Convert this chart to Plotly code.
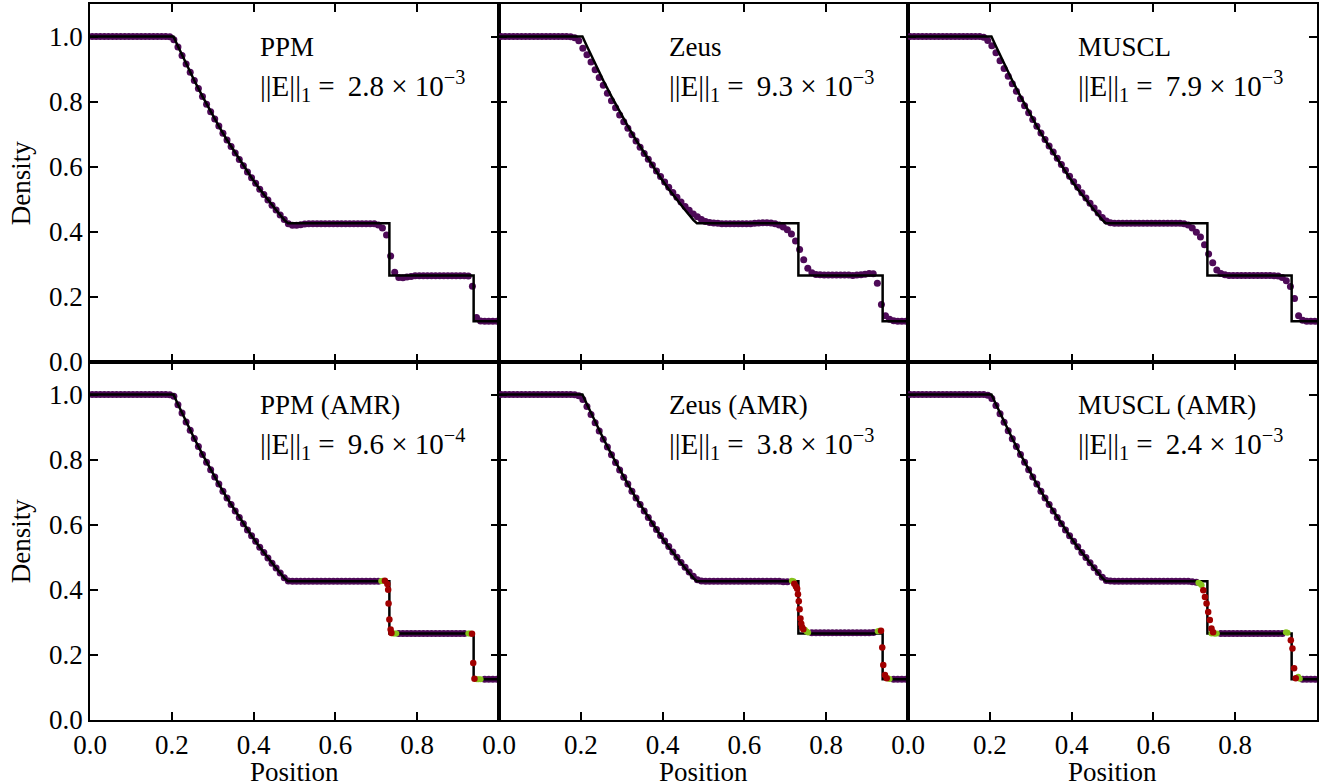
import plotly.graph_objects as go
from plotly.subplots import make_subplots

# ---------------- data ----------------
x_cells = [
    0.005, 0.015, 0.025, 0.035, 0.045, 0.055, 0.065, 0.075, 0.085, 0.095,
    0.105, 0.115, 0.125, 0.135, 0.145, 0.155, 0.165, 0.175, 0.185, 0.195,
    0.205, 0.215, 0.225, 0.235, 0.245, 0.255, 0.265, 0.275, 0.285, 0.295,
    0.305, 0.315, 0.325, 0.335, 0.345, 0.355, 0.365, 0.375, 0.385, 0.395,
    0.405, 0.415, 0.425, 0.435, 0.445, 0.455, 0.465, 0.475, 0.485, 0.495,
    0.505, 0.515, 0.525, 0.535, 0.545, 0.555, 0.565, 0.575, 0.585, 0.595,
    0.605, 0.615, 0.625, 0.635, 0.645, 0.655, 0.665, 0.675, 0.685, 0.695,
    0.705, 0.715, 0.725, 0.735, 0.745, 0.755, 0.765, 0.775, 0.785, 0.795,
    0.805, 0.815, 0.825, 0.835, 0.845, 0.855, 0.865, 0.875, 0.885, 0.895,
    0.905, 0.915, 0.925, 0.935, 0.945, 0.955, 0.965, 0.975, 0.985, 0.995,
]

# analytic (exact) solution, drawn as the black line
exact_x = [0.0, 0.204, 0.215, 0.235, 0.255, 0.275, 0.295, 0.315, 0.335, 0.355,
           0.375, 0.395, 0.415, 0.435, 0.455, 0.475, 0.484, 0.732, 0.732, 0.938,
           0.938, 1.0]
exact_rho = [1.0, 1.0, 0.970, 0.916, 0.865, 0.816, 0.769, 0.725, 0.682, 0.642,
             0.603, 0.566, 0.531, 0.498, 0.467, 0.437, 0.426, 0.426, 0.266, 0.266,
             0.125, 0.125]

rho_ppm = [
    1.0, 1.0, 1.0, 1.0, 1.0, 1.0, 1.0, 1.0, 1.0, 1.0,
    1.0, 1.0, 1.0, 1.0, 1.0, 1.0, 1.0, 1.0, 1.0, 0.999,
    0.990, 0.968, 0.942, 0.916, 0.890, 0.865, 0.840, 0.816, 0.792, 0.769,
    0.747, 0.725, 0.703, 0.682, 0.662, 0.642, 0.622, 0.603, 0.584, 0.566,
    0.549, 0.531, 0.515, 0.498, 0.482, 0.467, 0.452, 0.438, 0.425, 0.420,
    0.420, 0.422, 0.424, 0.425, 0.425, 0.425, 0.425, 0.425, 0.425, 0.425,
    0.425, 0.425, 0.425, 0.425, 0.425, 0.425, 0.425, 0.425, 0.425, 0.425,
    0.421, 0.412, 0.390, 0.326, 0.276, 0.260, 0.259, 0.261, 0.263, 0.265,
    0.265, 0.265, 0.265, 0.265, 0.265, 0.265, 0.265, 0.265, 0.265, 0.265,
    0.265, 0.265, 0.264, 0.233, 0.137, 0.126, 0.125, 0.125, 0.125, 0.125,
]

rho_zeus = [
    1.0, 1.0, 1.0, 1.0, 1.0, 1.0, 1.0, 1.0, 1.0, 1.0,
    1.0, 1.0, 1.0, 1.0, 1.0, 1.0, 1.0, 0.999, 0.996, 0.987,
    0.964, 0.944, 0.922, 0.898, 0.874, 0.850, 0.826, 0.803, 0.781, 0.759,
    0.738, 0.718, 0.698, 0.679, 0.660, 0.641, 0.623, 0.605, 0.587, 0.570,
    0.553, 0.537, 0.521, 0.506, 0.492, 0.478, 0.466, 0.455, 0.446, 0.438,
    0.432, 0.429, 0.427, 0.426, 0.425, 0.425, 0.425, 0.425, 0.425, 0.425,
    0.425, 0.425, 0.426, 0.427, 0.428, 0.428, 0.427, 0.425, 0.421, 0.415,
    0.406, 0.393, 0.372, 0.346, 0.314, 0.288, 0.274, 0.269, 0.268, 0.267,
    0.267, 0.267, 0.267, 0.267, 0.267, 0.267, 0.266, 0.267, 0.268, 0.270,
    0.272, 0.271, 0.242, 0.177, 0.142, 0.131, 0.127, 0.125, 0.125, 0.125,
]

rho_muscl = [
    1.0, 1.0, 1.0, 1.0, 1.0, 1.0, 1.0, 1.0, 1.0, 1.0,
    1.0, 1.0, 1.0, 1.0, 1.0, 1.0, 1.0, 1.0, 0.998, 0.988,
    0.972, 0.950, 0.926, 0.902, 0.878, 0.855, 0.832, 0.809, 0.787, 0.766,
    0.745, 0.724, 0.704, 0.684, 0.664, 0.645, 0.626, 0.607, 0.589, 0.571,
    0.554, 0.537, 0.520, 0.504, 0.488, 0.473, 0.458, 0.444, 0.433, 0.428,
    0.426, 0.426, 0.426, 0.426, 0.426, 0.426, 0.426, 0.426, 0.426, 0.426,
    0.426, 0.426, 0.426, 0.426, 0.426, 0.426, 0.426, 0.425, 0.421, 0.412,
    0.399, 0.384, 0.360, 0.332, 0.305, 0.283, 0.272, 0.268, 0.266, 0.266,
    0.266, 0.266, 0.266, 0.266, 0.266, 0.266, 0.266, 0.266, 0.266, 0.265,
    0.264, 0.260, 0.250, 0.232, 0.195, 0.142, 0.128, 0.125, 0.125, 0.125,
]

# AMR runs: root-level cells (purple), plus refined cells (green, red)
rho_ppm_amr = [
    1.0, 1.0, 1.0, 1.0, 1.0, 1.0, 1.0, 1.0, 1.0, 1.0,
    1.0, 1.0, 1.0, 1.0, 1.0, 1.0, 1.0, 1.0, 1.0, 0.999,
    0.995, 0.969, 0.943, 0.916, 0.890, 0.865, 0.840, 0.816, 0.792, 0.769,
    0.747, 0.725, 0.703, 0.682, 0.662, 0.642, 0.622, 0.603, 0.584, 0.566,
    0.549, 0.531, 0.515, 0.498, 0.482, 0.467, 0.452, 0.437, 0.427, 0.426,
    0.426, 0.426, 0.426, 0.426, 0.426, 0.426, 0.426, 0.426, 0.426, 0.426,
    0.426, 0.426, 0.426, 0.426, 0.426, 0.426, 0.426, 0.426, 0.426, 0.426,
    0.426, None, None, None, None, 0.266, 0.266, 0.266, 0.266, 0.266,
    0.266, 0.266, 0.266, 0.266, 0.266, 0.266, 0.266, 0.266, 0.266, 0.266,
    0.266, 0.266, None, None, None, None, 0.125, 0.125, 0.125, 0.125,
]
ppm_amr_l1_x = [0.712, 0.716, 0.741, 0.745, 0.749, 0.925, 0.929, 0.946, 0.950, 0.955]
ppm_amr_l1_rho = [0.427, 0.428, 0.266, 0.266, 0.266, 0.266, 0.266, 0.125, 0.125, 0.125]
ppm_amr_l2_x = [0.721, 0.727, 0.729, 0.730, 0.732, 0.735, 0.737, 0.934, 0.937, 0.940]
ppm_amr_l2_rho = [0.428, 0.418, 0.400, 0.358, 0.309, 0.278, 0.267, 0.265, 0.175, 0.127]

rho_zeus_amr = [
    1.0, 1.0, 1.0, 1.0, 1.0, 1.0, 1.0, 1.0, 1.0, 1.0,
    1.0, 1.0, 1.0, 1.0, 1.0, 1.0, 1.0, 1.0, 0.999, 0.996,
    0.985, 0.963, 0.939, 0.913, 0.888, 0.863, 0.839, 0.815, 0.791, 0.768,
    0.746, 0.725, 0.703, 0.682, 0.662, 0.642, 0.622, 0.603, 0.585, 0.567,
    0.550, 0.533, 0.516, 0.500, 0.484, 0.469, 0.455, 0.442, 0.431, 0.427,
    0.426, 0.426, 0.426, 0.426, 0.426, 0.426, 0.426, 0.426, 0.426, 0.426,
    0.426, 0.426, 0.426, 0.426, 0.426, 0.426, 0.426, 0.426, 0.426, 0.425,
    0.425, None, None, None, None, None, 0.268, 0.268, 0.268, 0.268,
    0.268, 0.268, 0.268, 0.268, 0.268, 0.268, 0.268, 0.268, 0.268, 0.268,
    0.268, 0.269, None, None, None, None, 0.125, 0.125, 0.125, 0.125,
]
zeus_amr_l1_x = [0.716, 0.720, 0.748, 0.752, 0.756, 0.926, 0.930, 0.951, 0.955]
zeus_amr_l1_rho = [0.428, 0.426, 0.277, 0.272, 0.269, 0.273, 0.274, 0.128, 0.126]
zeus_amr_l2_x = [0.722, 0.726, 0.729, 0.731, 0.733, 0.735, 0.737, 0.739, 0.741, 0.744,
                 0.934, 0.937, 0.9395, 0.9436, 0.948]
zeus_amr_l2_rho = [0.419, 0.410, 0.403, 0.386, 0.365, 0.340, 0.312, 0.296, 0.285, 0.279,
                   0.274, 0.223, 0.169, 0.138, 0.128]

rho_muscl_amr = [
    1.0, 1.0, 1.0, 1.0, 1.0, 1.0, 1.0, 1.0, 1.0, 1.0,
    1.0, 1.0, 1.0, 1.0, 1.0, 1.0, 1.0, 1.0, 1.0, 0.998,
    0.988, 0.966, 0.941, 0.915, 0.889, 0.864, 0.840, 0.816, 0.792, 0.769,
    0.747, 0.725, 0.703, 0.682, 0.662, 0.642, 0.622, 0.603, 0.584, 0.566,
    0.549, 0.532, 0.515, 0.499, 0.483, 0.468, 0.453, 0.439, 0.429, 0.427,
    0.426, 0.426, 0.426, 0.426, 0.426, 0.426, 0.426, 0.426, 0.426, 0.426,
    0.426, 0.426, 0.426, 0.426, 0.426, 0.426, 0.426, 0.426, 0.426, 0.425,
    0.423, None, None, None, None, None, 0.266, 0.266, 0.266, 0.266,
    0.266, 0.266, 0.266, 0.266, 0.266, 0.266, 0.266, 0.266, 0.266, 0.266,
    0.266, 0.266, None, None, None, None, 0.125, 0.125, 0.125, 0.125,
]
muscl_amr_l1_x = [0.710, 0.714, 0.718, 0.742, 0.750, 0.755, 0.924, 0.928, 0.954, 0.958]
muscl_amr_l1_rho = [0.422, 0.419, 0.414, 0.266, 0.265, 0.266, 0.270, 0.268, 0.133, 0.127]
muscl_amr_l2_x = [0.722, 0.726, 0.730, 0.734, 0.738, 0.742, 0.746, 0.936, 0.940, 0.944, 0.948]
muscl_amr_l2_rho = [0.399, 0.378, 0.358, 0.332, 0.307, 0.281, 0.270, 0.245, 0.220, 0.159, 0.128]

titles = ["PPM", "Zeus", "MUSCL", "PPM (AMR)", "Zeus (AMR)", "MUSCL (AMR)"]
errors = ["2.8", "9.3", "7.9", "9.6", "3.8", "2.4"]
error_exps = ["3", "3", "3", "4", "3", "3"]

x_ticks = [0.0, 0.2, 0.4, 0.6, 0.8]
x_ticklabels = ["0.0", "0.2", "0.4", "0.6", "0.8"]
y_ticks = [0.0, 0.2, 0.4, 0.6, 0.8, 1.0]
y_ticklabels = ["0.0", "0.2", "0.4", "0.6", "0.8", "1.0"]

# ---------------- figure ----------------
FONT = "Liberation Serif, Times New Roman, DejaVu Serif, serif"
PURPLE = "#4e0a58"
GREEN = "#86c21c"
RED = "#a10000"
FS = 27
FS_MATH = 29
THIN = "\u2009"

fig = make_subplots(rows=2, cols=3, horizontal_spacing=0, vertical_spacing=0)

panels = [
    (1, 1, rho_ppm, None),
    (1, 2, rho_zeus, None),
    (1, 3, rho_muscl, None),
    (2, 1, rho_ppm_amr, (ppm_amr_l1_x, ppm_amr_l1_rho, ppm_amr_l2_x, ppm_amr_l2_rho)),
    (2, 2, rho_zeus_amr, (zeus_amr_l1_x, zeus_amr_l1_rho, zeus_amr_l2_x, zeus_amr_l2_rho)),
    (2, 3, rho_muscl_amr, (muscl_amr_l1_x, muscl_amr_l1_rho, muscl_amr_l2_x, muscl_amr_l2_rho)),
]

for k, (r, c, rho, amr) in enumerate(panels):
    fig.add_trace(go.Scatter(x=x_cells, y=rho, mode="markers",
                             marker=dict(color=PURPLE, size=7, line=dict(width=0)),
                             showlegend=False, hoverinfo="skip"), row=r, col=c)
    fig.add_trace(go.Scatter(x=exact_x, y=exact_rho, mode="lines",
                             line=dict(color="black", width=2.5),
                             showlegend=False, hoverinfo="skip"), row=r, col=c)
    if amr is not None:
        l1x, l1y, l2x, l2y = amr
        fig.add_trace(go.Scatter(x=l1x, y=l1y, mode="markers",
                                 marker=dict(color=GREEN, size=6, line=dict(width=0)),
                                 showlegend=False, hoverinfo="skip"), row=r, col=c)
        fig.add_trace(go.Scatter(x=l2x, y=l2y, mode="markers",
                                 marker=dict(color=RED, size=6.5, line=dict(width=0)),
                                 showlegend=False, hoverinfo="skip"), row=r, col=c)

    n = "" if k == 0 else str(k + 1)
    fig.add_annotation(xref=f"x{n} domain", yref=f"y{n} domain", x=0.41, y=0.88,
                       xanchor="left", yanchor="middle", showarrow=False,
                       text=titles[k], font=dict(family=FONT, size=FS, color="black"))
    fig.add_annotation(xref=f"x{n} domain", yref=f"y{n} domain", x=0.41, y=0.77,
                       xanchor="left", yanchor="middle", showarrow=False,
                       text=(f"||E||<sub>1</sub> = {THIN}{errors[k]} × 10"
                             f"<sup>−{error_exps[k]}</sup>"),
                       font=dict(family=FONT, size=FS_MATH, color="black"))

# axis labels as annotations
for yc in (0.75, 0.25):
    fig.add_annotation(xref="paper", yref="paper", x=-0.056, y=yc, textangle=-90,
                       xanchor="center", yanchor="middle", showarrow=False,
                       text="Density", font=dict(family=FONT, size=FS, color="black"))
for xc in (1 / 6, 0.5, 5 / 6):
    fig.add_annotation(xref="paper", yref="paper", x=xc, y=-0.072,
                       xanchor="center", yanchor="middle", showarrow=False,
                       text="Position", font=dict(family=FONT, size=FS, color="black"))

axis_common = dict(showline=True, linewidth=1.6, linecolor="black", mirror="ticks",
                   ticks="inside", ticklen=8, tickwidth=1.5, tickcolor="black",
                   showgrid=False, zeroline=False, automargin=False,
                   tickfont=dict(family=FONT, size=FS, color="black"))

for r in (1, 2):
    for c in (1, 2, 3):
        fig.update_xaxes(range=[0, 1.0], tickvals=x_ticks, ticktext=x_ticklabels,
                         showticklabels=(r == 2), row=r, col=c, **axis_common)
        fig.update_yaxes(range=[0, 1.1], tickvals=y_ticks, ticktext=y_ticklabels,
                         showticklabels=(c == 1), row=r, col=c, **axis_common)

fig.update_layout(width=1326, height=784,
                  margin=dict(l=90, r=9, t=4, b=64, autoexpand=False),
                  paper_bgcolor="white", plot_bgcolor="white",
                  font=dict(family=FONT, color="black"))

fig.write_html("out.html", config={"displayModeBar": False},
               post_script="document.body.style.margin='0';document.body.style.overflow='hidden';")
